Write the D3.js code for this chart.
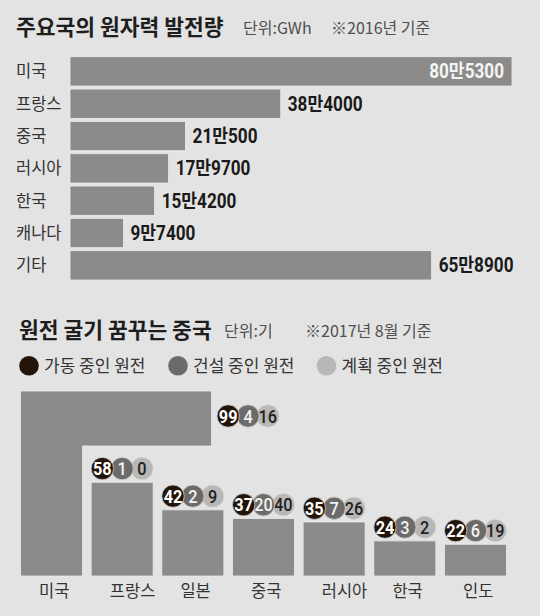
<!DOCTYPE html>
<html>
<head>
<meta charset="utf-8">
<script src="https://cdn.jsdelivr.net/npm/d3@7"></script>
<style>
  html, body { margin: 0; padding: 0; background: #e3e3e3; }
  svg { display: block; }
  text { font-family: "Noto Sans CJK KR", "Noto Sans", sans-serif; }
  .num { font-family: Roboto, "Noto Sans CJK KR", sans-serif; }
</style>
</head>
<body>
<svg></svg>
<script>
// 주요국의 원자력 발전량 (GWh, 2016)
let powerCountries = ["미국", "프랑스", "중국", "러시아", "한국", "캐나다", "기타"]
let powerGWh = [805300, 384000, 210500, 179700, 154200, 97400, 658900]

// 원전 현황 (기, 2017년 8월)
let plantCountries = ["미국", "프랑스", "일본", "중국", "러시아", "한국", "인도"]
let operating = [99, 58, 42, 37, 35, 24, 22]
let building = [4, 1, 2, 20, 7, 3, 6]
let planned = [16, 0, 9, 40, 26, 2, 19]
let statusNames = ["가동 중인 원전", "건설 중인 원전", "계획 중인 원전"]

let width = 540
let height = 616
let bg = "#e3e3e3"
let barColor = "#8c8b8a"
let statusColors = ["#231409", "#6d6b69", "#b8b7b5"]
let statusText = ["#ffffff", "#f2f2f2", "#222222"]
// 숫자 글꼴을 좁게 보이도록 가로 비율
let narrow = 0.88

let svg = d3.select('svg')
    .attr('width', width)
    .attr('height', height)

svg.append('rect')
    .attr('width', width)
    .attr('height', height)
    .attr('fill', bg)

// 80만5300 형태로 표기
let manFormat = (v) => {
    let man = Math.floor(v / 10000)
    let rest = v % 10000
    return man + "만" + rest
}

let drawTitle = (x, y, title, subs) => {
    svg.append('text')
        .attr('x', x)
        .attr('y', y)
        .attr('font-size', 21.5)
        .attr('font-weight', 700)
        .attr('fill', '#1e1e1e')
        .text(title)
    subs.forEach((s) => {
        svg.append('text')
            .attr('x', s.x)
            .attr('y', y - 1)
            .attr('font-size', 16)
            .attr('fill', '#505050')
            .text(s.t)
    })
}

// ---------- 위쪽: 발전량 가로 막대 ----------
drawTitle(16, 34.5, "주요국의 원자력 발전량", [{x: 243, t: "단위:GWh"}, {x: 331, t: "※2016년 기준"}])

let xPower = d3.scaleLinear()
    .domain([0, d3.max(powerGWh)])
    .range([70, 512])

let yPower = d3.scaleBand()
    .domain(powerCountries)
    .range([56.7, 280])
    .paddingInner(0.093)

let powerData = powerCountries.map((c, i) => ({country: c, value: powerGWh[i]}))
let inside = (d) => xPower(d.value) + 80 > width

let topChart = svg.append('g')

topChart.selectAll('rect')
    .data(powerData)
    .enter()
    .append('rect')
    .attr('x', xPower(0))
    .attr('y', (d) => yPower(d.country))
    .attr('width', (d) => xPower(d.value) - xPower(0))
    .attr('height', yPower.bandwidth())
    .attr('fill', barColor)
    .attr('stroke', '#ededed')
    .attr('stroke-width', 0.8)

topChart.selectAll('.cat')
    .data(powerData)
    .enter()
    .append('text')
    .attr('class', 'cat')
    .attr('x', 16)
    .attr('y', (d) => yPower(d.country) + yPower.bandwidth() / 2)
    .attr('dy', '0.36em')
    .attr('font-size', 16.5)
    .attr('fill', '#333')
    .text((d) => d.country)

topChart.selectAll('.val')
    .data(powerData)
    .enter()
    .append('text')
    .attr('class', 'val num')
    .attr('transform', (d) => {
        let x = inside(d) ? xPower(d.value) - 8 : xPower(d.value) + 7
        let y = yPower(d.country) + yPower.bandwidth() / 2
        return `translate(${x}, ${y}) scale(${narrow}, 1)`
    })
    .attr('dy', '0.36em')
    .attr('text-anchor', (d) => inside(d) ? 'end' : 'start')
    .attr('font-size', 19.5)
    .attr('font-weight', 700)
    .attr('fill', (d) => inside(d) ? '#f4f4f4' : '#1a1a1a')
    .text((d) => manFormat(d.value))

// ---------- 아래쪽: 원전 현황 ----------
drawTitle(19, 338, "원전 굴기 꿈꾸는 중국", [{x: 224, t: "단위:기"}, {x: 305, t: "※2017년 8월 기준"}])

// 범례
let legendX = [29, 178, 326.5]
let legend = svg.append('g')
statusNames.forEach((name, i) => {
    legend.append('circle')
        .attr('cx', legendX[i])
        .attr('cy', 365.8)
        .attr('r', 9.8)
        .attr('fill', statusColors[i])
    legend.append('text')
        .attr('x', legendX[i] + 15)
        .attr('y', 365.8)
        .attr('dy', '0.36em')
        .attr('font-size', 17)
        .attr('fill', '#333')
        .text(name)
})

let xPlant = d3.scaleBand()
    .domain(plantCountries)
    .range([20.5, 506.5])
    .paddingInner(0.122)

let yPlant = d3.scaleLinear()
    .domain([0, 111])
    .range([582.2, 391])

let baseline = 576
let plantData = plantCountries.map((c, i) => ({
    country: c,
    counts: [operating[i], building[i], planned[i]]
}))

let bw = xPlant.bandwidth()
let tallest = d3.max(operating)
// 가장 큰 미국 막대는 위에서 꺾어 오른쪽으로 뻗게 그림
let armLen = 191
let armH = 55

let bars = svg.append('g')
bars.selectAll('path')
    .data(plantData)
    .enter()
    .append('path')
    .attr('d', (d) => {
        let x0 = xPlant(d.country)
        if (d.counts[0] === tallest) {
            let t = yPlant.range()[1]
            return `M${x0},${baseline}V${t}H${x0 + armLen}V${t + armH}H${x0 + bw}V${baseline}Z`
        }
        let t = yPlant(d.counts[0])
        return `M${x0},${baseline}V${t}H${x0 + bw}V${baseline}Z`
    })
    .attr('fill', barColor)
    .attr('stroke', '#ededed')
    .attr('stroke-width', 0.8)

bars.selectAll('.cat')
    .data(plantData)
    .enter()
    .append('text')
    .attr('class', 'cat')
    .attr('x', (d) => xPlant(d.country) + bw * 0.3)
    .attr('y', 591.5)
    .attr('dy', '0.36em')
    .attr('font-size', 16.5)
    .attr('fill', '#333')
    .text((d) => d.country)

// 숫자 동그라미 3개
let r = 11.2
let gap = (bw - 2 * r) / 2
let badges = svg.selectAll('.badge')
    .data(plantData)
    .enter()
    .append('g')
    .attr('class', 'badge')
    .attr('transform', (d) => {
        let x0 = xPlant(d.country)
        if (d.counts[0] === tallest) {
            let t = yPlant.range()[1]
            return `translate(${x0 + armLen + 5.5}, ${t + armH / 2 - 2.5})`
        }
        return `translate(${x0}, ${yPlant(d.counts[0]) - r - 2.5})`
    })

badges.each(function (d) {
    let g = d3.select(this)
    // 계획 → 건설 → 가동 순으로 겹쳐 그림
    for (let i = 2; i >= 0; i--) {
        g.append('circle')
            .attr('cx', r + i * gap)
            .attr('cy', 0)
            .attr('r', r)
            .attr('fill', statusColors[i])
            .attr('stroke', '#d6d6d6')
            .attr('stroke-width', 0.8)
        g.append('text')
            .attr('class', 'num')
            .attr('transform', `translate(${r + i * gap}, 0) scale(${narrow}, 1)`)
            .attr('dy', '0.36em')
            .attr('text-anchor', 'middle')
            .attr('font-size', 18.5)
            .attr('font-weight', i === 0 ? 700 : 500)
            .attr('fill', statusText[i])
            .text(d.counts[i])
    }
})
</script>
</body>
</html>
